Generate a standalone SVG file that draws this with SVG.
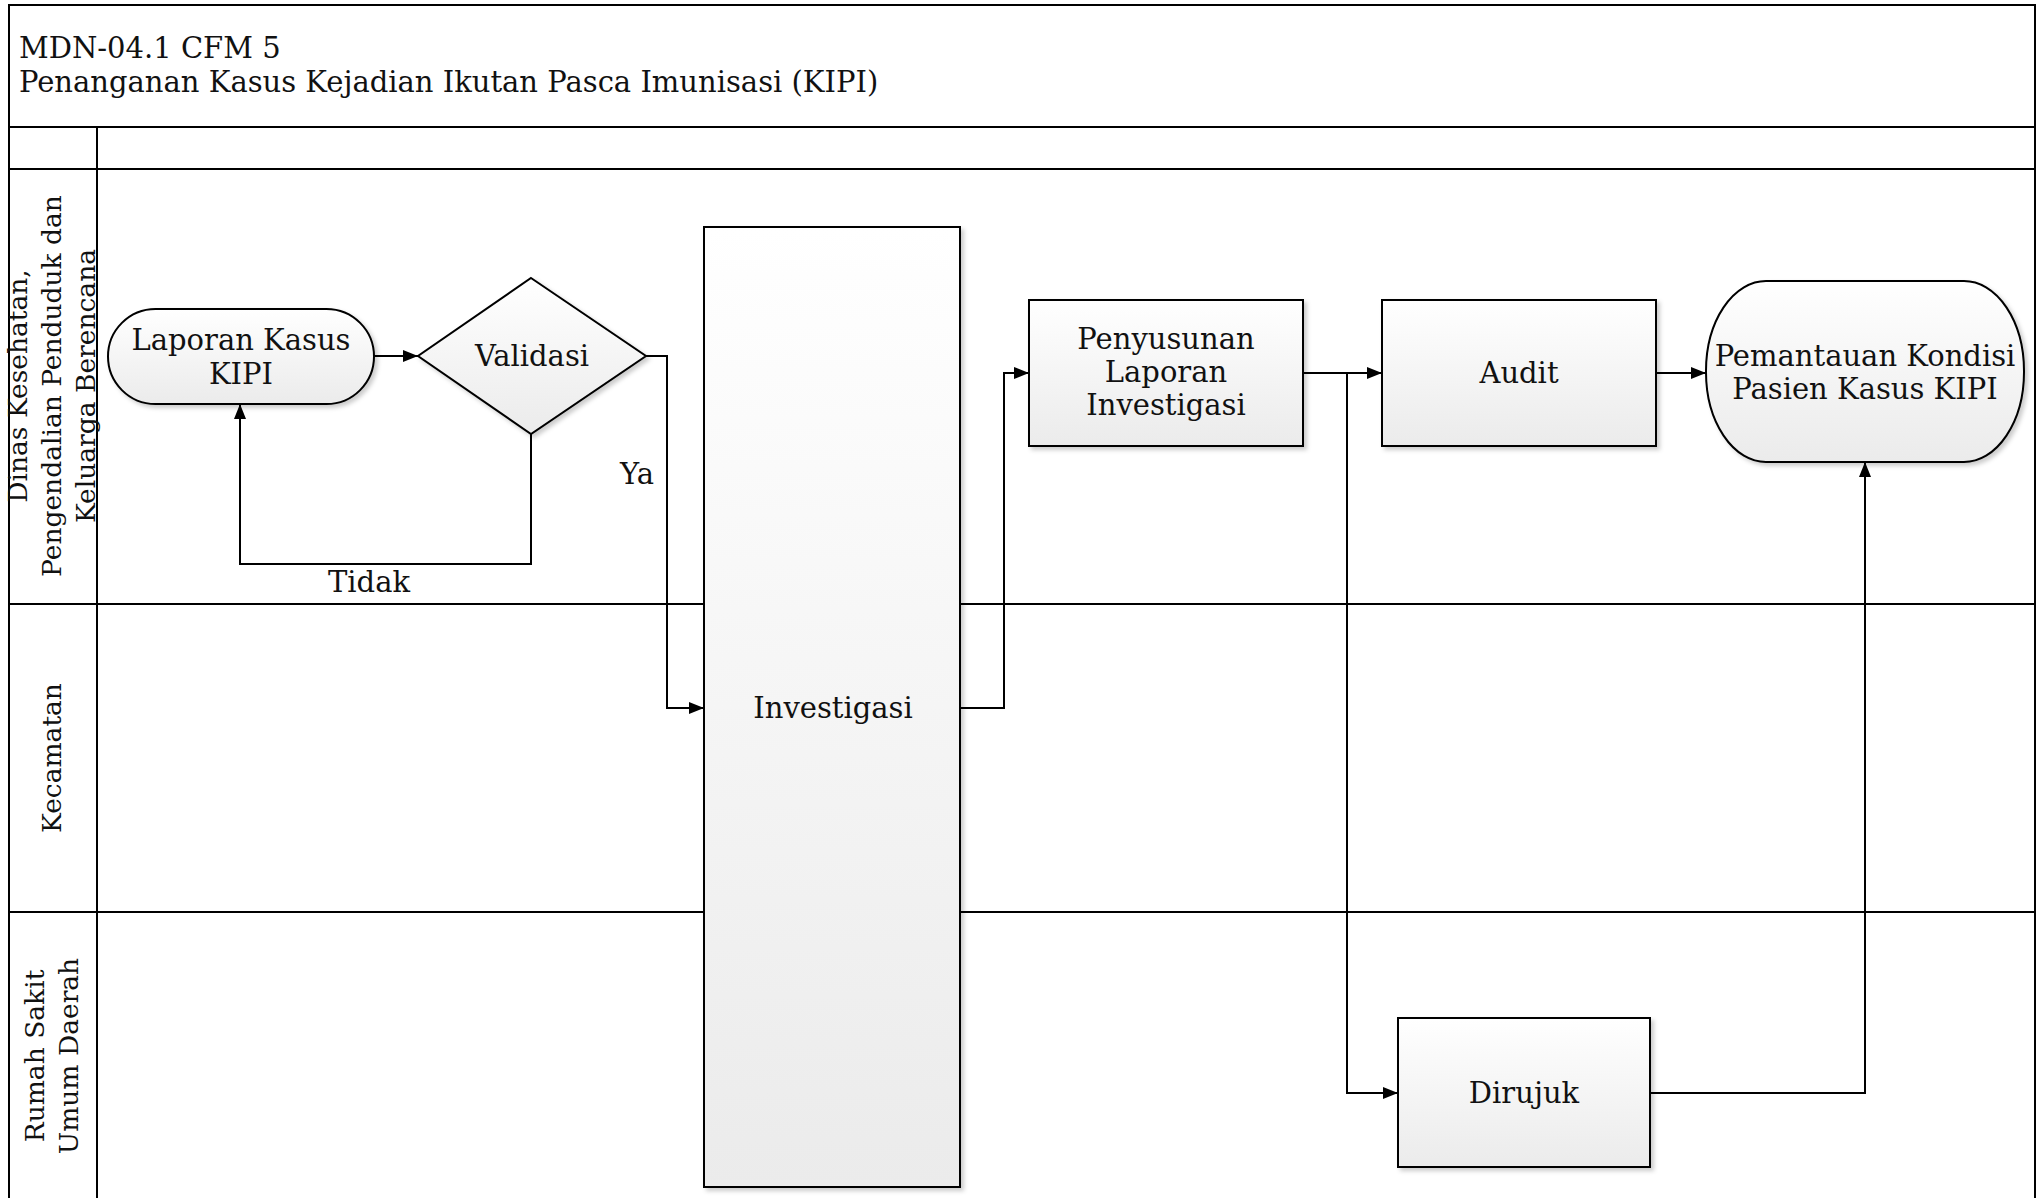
<svg xmlns="http://www.w3.org/2000/svg" width="2037" height="1198" viewBox="0 0 2037 1198">
<defs>
<linearGradient id="gv" x1="0" y1="0" x2="0" y2="1"><stop offset="0" stop-color="#ffffff"/><stop offset="1" stop-color="#ebebeb"/></linearGradient>
<linearGradient id="gh" x1="0" y1="0" x2="1" y2="0"><stop offset="0" stop-color="#ffffff"/><stop offset="1" stop-color="#e6e6e6"/></linearGradient>
<filter id="sh" x="-10%" y="-10%" width="130%" height="130%"><feDropShadow dx="3" dy="3" stdDeviation="2" flood-color="#000" flood-opacity="0.2"/></filter>
<marker id="ah" viewBox="0 0 15 12" refX="15" refY="6" markerWidth="15" markerHeight="12" markerUnits="userSpaceOnUse" orient="auto"><path d="M0,0 L15,6 L0,12 z" fill="#000"/></marker>
</defs>
<style>
text{font-family:"DejaVu Serif","Liberation Serif",serif;font-size:29px;fill:#111}
.lane text{font-size:26.5px}
.c{text-anchor:middle}
.ln{stroke:#000;stroke-width:2;fill:none}
.node{stroke:#000;stroke-width:2;fill:url(#gv);filter:url(#sh)}
.conn{stroke:#000;stroke-width:2;fill:none;marker-end:url(#ah)}
</style>
<rect width="2037" height="1198" fill="#fff"/>
<g id="pool">
<rect x="9" y="5" width="2026" height="122" fill="url(#gv)" class="ln"/>
<rect x="97" y="127" width="1938" height="42" fill="url(#gv)" class="ln"/>
<rect x="9" y="127" width="88" height="42" fill="#fff" class="ln"/>
<rect x="9" y="169" width="88" height="435" fill="url(#gh)" class="ln"/>
<rect x="9" y="604" width="88" height="308" fill="url(#gh)" class="ln"/>
<rect x="9" y="912" width="88" height="300" fill="url(#gh)" class="ln"/>
<line x1="97" y1="604" x2="2035" y2="604" class="ln"/>
<line x1="97" y1="912" x2="2035" y2="912" class="ln"/>
<line x1="2035" y1="5" x2="2035" y2="1198" class="ln"/>
<text x="19" y="58">MDN-04.1 CFM 5</text>
<text x="19" y="92">Penanganan Kasus Kejadian Ikutan Pasca Imunisasi (KIPI)</text>
</g>
<g id="lane1" class="lane"><text class="c" transform="translate(53,386) rotate(-90)"><tspan x="0" y="-26">Dinas Kesehatan,</tspan><tspan x="0" y="8">Pengendalian Penduduk dan</tspan><tspan x="0" y="42">Keluarga Berencana</tspan></text></g>
<g id="lane2" class="lane"><text class="c" transform="translate(53,758) rotate(-90)"><tspan x="0" y="8">Kecamatan</tspan></text></g>
<g id="lane3" class="lane"><text class="c" transform="translate(53,1056) rotate(-90)"><tspan x="0" y="-9">Rumah Sakit</tspan><tspan x="0" y="25">Umum Daerah</tspan></text></g>

<g id="investigasi"><rect x="704" y="227" width="256" height="960" class="node"/><text class="c" x="833" y="718">Investigasi</text></g>

<g id="connectors">
<path d="M374,356 L418,356" class="conn"/>
<path d="M531,434 L531,564 L240,564 L240,404" class="conn"/>
<path d="M646,356 L667,356 L667,708 L704,708" class="conn"/>
<path d="M960,708 L1004,708 L1004,373 L1029,373" class="conn"/>
<path d="M1303,373 L1382,373" class="conn"/>
<path d="M1347,373 L1347,1093 L1398,1093" class="conn"/>
<path d="M1656,373 L1706,373" class="conn"/>
<path d="M1650,1093 L1865,1093 L1865,462" class="conn"/>
<text class="c" x="369" y="592">Tidak</text>
<text class="c" x="637" y="484">Ya</text>
</g>

<g id="laporan"><rect x="108" y="309" width="266" height="95" rx="47.5" ry="47.5" class="node"/><text class="c" x="241" y="350">Laporan Kasus</text><text class="c" x="241" y="384">KIPI</text></g>
<g id="validasi"><polygon points="531,278 646,356 531,434 418,356" class="node"/><text class="c" x="532" y="366">Validasi</text></g>
<g id="penyusunan"><rect x="1029" y="300" width="274" height="146" class="node"/><text class="c" x="1166" y="349">Penyusunan</text><text class="c" x="1166" y="382">Laporan</text><text class="c" x="1166" y="415">Investigasi</text></g>
<g id="audit"><rect x="1382" y="300" width="274" height="146" class="node"/><text class="c" x="1519" y="383">Audit</text></g>
<g id="pemantauan"><rect x="1706" y="281" width="318" height="181" rx="60" ry="90" class="node"/><text class="c" x="1865" y="366">Pemantauan Kondisi</text><text class="c" x="1865" y="399">Pasien Kasus KIPI</text></g>
<g id="dirujuk"><rect x="1398" y="1018" width="252" height="149" class="node"/><text class="c" x="1524" y="1103">Dirujuk</text></g>
</svg>
